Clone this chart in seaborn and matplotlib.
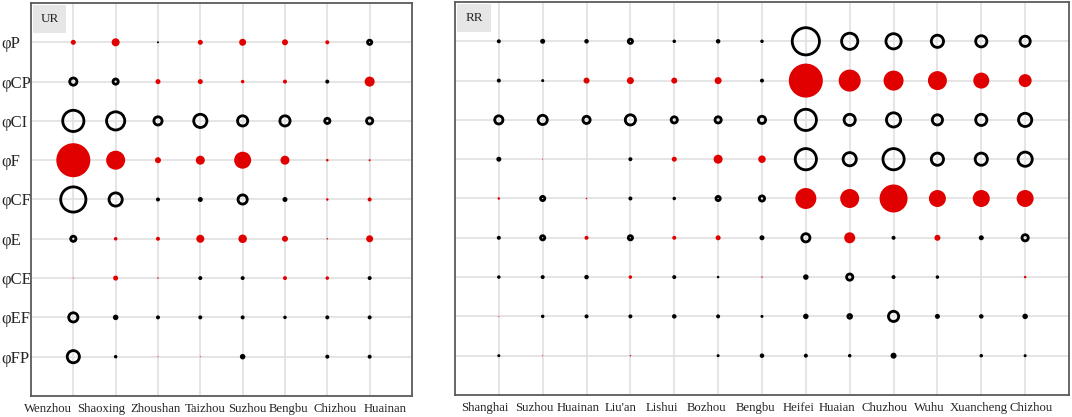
import numpy as np
import pandas as pd
import matplotlib
matplotlib.use("Agg")
import matplotlib.pyplot as plt
import matplotlib.patches as mpatches
import seaborn as sns

# ==================== DATA ====================
# signed effect size (~ marker diameter): >0 red filled, <0 black ring
INDICES = ["φP", "φCP", "φCI", "φF", "φCF", "φE", "φCE", "φEF", "φFP"]

UR_CITIES = ["Wenzhou", "Shaoxing", "Zhoushan", "Taizhou", "Suzhou", "Bengbu", "Chizhou", "Huainan"]
UR_VALUES = [
    [5, 8, -2, 5, 7, 6, 4, -7],
    [-10, -8, 5, 5, 3.5, 4, -4, 10],
    [-24, -21, -11, -16, -13, -13, -8, -9],
    [34, 19, 6, 9, 17, 9, 2.5, 2],
    [-28, -16, -4, -5, -12, -5, 2.5, 4],
    [-8, 3.5, 4, 8, 8.5, 6, 1.5, 7],
    [1, 5, 1.5, -4, -4, 4, 3.5, -4],
    [-12, -5.5, -4, -4, -4, -3.5, -4, -4],
    [-15, -3.5, 1, 1, -5.5, 0, -4, -4],
]

RR_CITIES = ["Shanghai", "Suzhou", "Huainan", "Liu'an", "Lishui", "Bozhou", "Bengbu",
             "Heifei", "Huaian", "Chuzhou", "Wuhu", "Xuancheng", "Chizhou"]
RR_VALUES = [
    [-4, -5, -4.5, -7, -3.5, -4.5, -3.5, -30, -19, -18, -15, -14, -13],
    [-4, -3, 6, 7, 6, 7, -4, 34, 22, 20, 19, 16, 13],
    [-11, -12, -10, -13, -9, -9, -10, -24, -14, -17, -13, -14, -16],
    [-5, 1, 0, -4, 5, 9, 7.5, -24, -16, -24, -15, -15, -17],
    [2.5, -7, 1.5, -4, -3.5, -7, -8, 21, 19, 28, 17, 17, 17],
    [-4, -7, 4, -7, 4, 5, -5, -11, 11, -4, 6, -5, -9],
    [-3.5, -4, -4.5, 3.5, -4, -2.5, 1.5, -5.5, -9, -4, -3.5, 0, 2.5],
    [1, -3.5, -4, -4, -4.5, -4, -3, -5.5, -6.5, -13, -5, -4.5, -5.5],
    [-3, 1, 0, 1.5, 0, -3, -4.5, -4, -3.5, -6, 0, -3.5, -3],
]

# ==================== LAYOUT ====================
# where the city names sit under each panel (axes fraction), as in the source figure
UR_LABEL_X = [0.045, 0.184, 0.328, 0.457, 0.567, 0.677, 0.798, 0.929]
RR_LABEL_X = [0.049, 0.129, 0.200, 0.270, 0.337, 0.409, 0.490,
              0.559, 0.622, 0.700, 0.772, 0.853, 0.938]

RED = "#e10000"
RING_LW = 2.8      # ring stroke, px
SMALL = 6          # rings this small render as solid dots
PX = 0.72          # points per pixel at dpi 100
VMAX = 34
SERIF = "Liberation Serif"


def to_long(values, cities):
    df = pd.DataFrame(values, index=INDICES, columns=cities)
    df = df.reset_index(names="index").melt(id_vars="index", var_name="city", value_name="value")
    df["row"] = df["index"].map({k: i for i, k in enumerate(INDICES)})
    df["col"] = df["city"].map({c: i for i, c in enumerate(cities)})
    return df


def draw_panel(ax, values, cities, tag, show_y, label_x, box_w):
    df = to_long(values, cities)
    mag = df["value"].abs()
    pos = df[df["value"] > 0].copy()
    dots = df[(df["value"] < 0) & (mag <= SMALL)].copy()
    rings = df[(df["value"] < 0) & (mag > SMALL)].copy()
    pos["area"] = pos["value"] ** 2
    dots["area"] = dots["value"] ** 2
    rings["area"] = (rings["value"].abs() - RING_LW) ** 2

    kw = dict(x="col", y="row", size="area", sizes=(0, (PX * VMAX) ** 2),
              size_norm=(0, VMAX ** 2), legend=False, zorder=3, ax=ax)
    sns.scatterplot(data=pos, color=RED, linewidth=0, **kw)
    sns.scatterplot(data=dots, color="black", linewidth=0, **kw)
    sns.scatterplot(data=rings, facecolor="none", edgecolor="black",
                    linewidth=RING_LW * PX, **kw)

    ax.set_xlim(-1, len(cities))
    ax.set_ylim(len(INDICES), -1)
    ax.set_xlabel("")
    ax.set_ylabel("")
    ax.set_axisbelow(True)
    ax.grid(True, color="#e0e0e0", lw=1.2)
    ax.set_facecolor("white")
    for sp in ax.spines.values():
        sp.set_visible(True)
        sp.set_color("#5a5a5a")
        sp.set_linewidth(1.3)

    ax.set_xticks(range(len(cities)))
    ax.set_xticklabels([])
    ax.set_yticks(range(len(INDICES)))
    if show_y:
        ax.set_yticklabels(INDICES, fontsize=12, family=SERIF, ha="left")
        ax.tick_params(axis="y", pad=21)
    else:
        ax.set_yticklabels([])
    ax.tick_params(length=0)

    for name, fx in zip(cities, label_x):
        ax.text(fx, -0.033, name, transform=ax.transAxes, ha="center", va="center",
                fontsize=9.2, family=SERIF)

    # grey tag box in the top-left corner
    ax.add_patch(mpatches.Rectangle((0.004, 0.924), box_w, 0.071, transform=ax.transAxes,
                                    fc="#e6e6e6", ec="none", zorder=4))
    ax.text(0.004 + box_w / 2, 0.96, tag, transform=ax.transAxes, ha="center", va="center",
            fontsize=9.5, family=SERIF, zorder=5)


def main():
    sns.set_style("white")
    fig = plt.figure(figsize=(10.72, 4.17), dpi=100)
    ax_ur = fig.add_axes([0.0289, 0.0504, 0.3554, 0.9424])
    ax_rr = fig.add_axes([0.4244, 0.0528, 0.5728, 0.9424])

    draw_panel(ax_ur, UR_VALUES, UR_CITIES, "UR", True, UR_LABEL_X, 0.089)
    draw_panel(ax_rr, RR_VALUES, RR_CITIES, "RR", False, RR_LABEL_X, 0.055)

    fig.savefig("out.png", dpi=100)
    plt.close(fig)


if __name__ == "__main__":
    main()
